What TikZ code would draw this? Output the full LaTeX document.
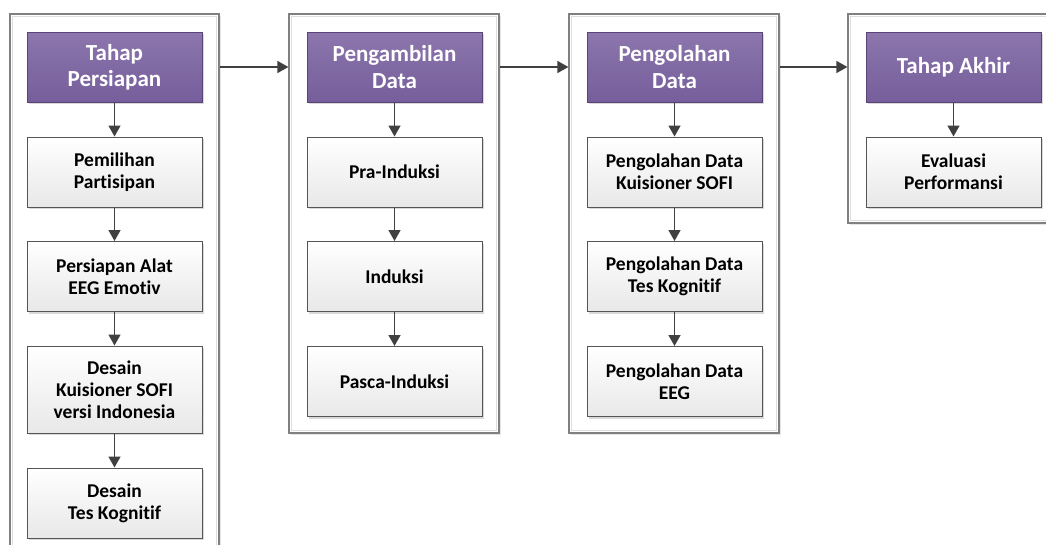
\documentclass[tikz,border=0pt]{standalone}
\usepackage{fontspec}
\setmainfont{Carlito}[Ligatures={NoCommon}]
\usetikzlibrary{arrows.meta,shadows}

\definecolor{purpletop}{RGB}{140,118,172}
\definecolor{purplebot}{RGB}{117,94,155}
\definecolor{purpleline}{RGB}{88,68,118}
\definecolor{boxline}{RGB}{85,85,85}
\definecolor{frameline}{RGB}{128,128,128}
\definecolor{frameinner}{RGB}{222,222,222}
\definecolor{arrowcol}{RGB}{64,64,64}

\tikzset{
  frame/.style={draw=frameline, line width=1.2pt, fill=white, inner sep=0pt,
    general shadow={fill=black!10, shadow xshift=2pt, shadow yshift=-2pt}},
  innerframe/.style={draw=frameinner, line width=1pt},
  phase/.style={draw=purpleline, line width=1pt, top color=purpletop, bottom color=purplebot,
    minimum width=175pt, minimum height=70pt, inner sep=0pt, align=center,
    text=white, font=\fontsize{23}{26.5}\selectfont\bfseries,
    general shadow={fill=black!15, shadow xshift=2pt, shadow yshift=-2pt}},
  task/.style={draw=boxline, line width=1pt, top color=white, bottom color=black!9,
    minimum width=175pt, minimum height=70pt, inner sep=0pt, align=center,
    text=black, font=\fontsize{19.5}{22}\selectfont\bfseries,
    general shadow={fill=black!15, shadow xshift=2pt, shadow yshift=-2pt}},
  arr/.style={draw=arrowcol, line width=1.5pt, -{Triangle[width=12pt,length=11pt]}}
}

\begin{document}
\begin{tikzpicture}[x=1pt,y=1pt]
\useasboundingbox (0,0) rectangle (1046,-544);
\clip (0,0) rectangle (1046,-544);

% outer frames of the four stages
\node[frame, minimum width=209pt, minimum height=546pt] (c1) at (114.5,-287) {};
\node[frame, minimum width=210pt, minimum height=419pt] (c2) at (394,-223.5) {};
\node[frame, minimum width=210pt, minimum height=419pt] (c3) at (674,-223.5) {};
\node[frame, minimum width=240pt, minimum height=209pt] (c4) at (968,-118.5) {};
\foreach \c in {c1,c2,c3,c4}
  \draw[innerframe] ([shift={(3pt,-3pt)}]\c.north west) rectangle ([shift={(-3pt,3pt)}]\c.south east);

% stage 1
\node[phase] (h1) at (114.5,-67) {Tahap\\Persiapan};
\node[task] (a1) at (114.5,-172) {Pemilihan\\Partisipan};
\node[task] (a2) at (114.5,-276.5) {Persiapan Alat\\EEG Emotiv};
\node[task, minimum height=87pt] (a3) at (114.5,-389.5) {Desain\\Kuisioner SOFI\\versi Indonesia};
\node[task] (a4) at (114.5,-503) {Desain\\Tes Kognitif};

% stage 2
\node[phase] (h2) at (394.5,-67) {Pengambilan\\Data};
\node[task] (b1) at (394.5,-172) {Pra-Induksi};
\node[task] (b2) at (394.5,-276.5) {Induksi};
\node[task] (b3) at (394.5,-381.5) {Pasca-Induksi};

% stage 3
\node[phase] (h3) at (674.5,-67) {Pengolahan\\Data};
\node[task] (d1) at (674.5,-172) {Pengolahan Data\\Kuisioner SOFI};
\node[task] (d2) at (674.5,-276.5) {Pengolahan Data\\Tes Kognitif};
\node[task] (d3) at (674.5,-381.5) {Pengolahan Data\\EEG};

% stage 4
\node[phase] (h4) at (953.5,-67) {Tahap Akhir};
\node[task] (e1) at (953.5,-172) {Evaluasi\\Performansi};

% arrows inside the stages
\draw[arr] (h1) -- (a1);
\draw[arr] (a1) -- (a2);
\draw[arr] (a2) -- (a3);
\draw[arr] (a3) -- (a4);
\draw[arr] (h2) -- (b1);
\draw[arr] (b1) -- (b2);
\draw[arr] (b2) -- (b3);
\draw[arr] (h3) -- (d1);
\draw[arr] (d1) -- (d2);
\draw[arr] (d2) -- (d3);
\draw[arr] (h4) -- (e1);

% arrows between the stages
\draw[arr] (c1.east |- h1.center) -- (c2.west |- h1.center);
\draw[arr] (c2.east |- h2.center) -- (c3.west |- h2.center);
\draw[arr] (c3.east |- h3.center) -- (c4.west |- h3.center);
\end{tikzpicture}
\end{document}
